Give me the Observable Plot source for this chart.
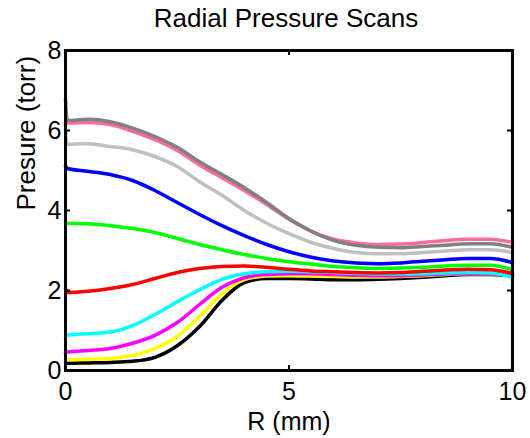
<!DOCTYPE html>
<html>
<head>
<meta charset="utf-8">
<script src="https://cdn.jsdelivr.net/npm/d3@7"></script>
<script src="https://cdn.jsdelivr.net/npm/@observablehq/plot@0.6"></script>
<style>
  html, body { margin: 0; padding: 0; background: white; overflow: hidden; }
</style>
</head>
<body>
<div id="chart"></div>
<script>
const titleText = "Radial Pressure Scans";
const xLabel = "R (mm)";
const yLabel = "Presure (torr)";
const xDomain = [0, 10];
const yDomain = [0, 8];
const xTicks = [0, 5, 10];
const yTicks = [0, 2, 4, 6, 8];

const R = [0, 0.04, 0.5, 1, 1.5, 2, 2.5, 3, 3.5, 4, 4.5, 5, 5.5, 6, 6.5, 7, 7.5, 8, 8.5, 9, 9.5, 10];

const scan1  = [0.18, 0.18, 0.19, 0.20, 0.23, 0.33, 0.62, 1.10, 1.75, 2.20, 2.30, 2.30, 2.29, 2.27, 2.27, 2.28, 2.30, 2.33, 2.37, 2.40, 2.40, 2.38];
const scan2  = [0.27, 0.27, 0.28, 0.30, 0.38, 0.55, 0.85, 1.35, 1.92, 2.27, 2.36, 2.37, 2.36, 2.35, 2.34, 2.34, 2.35, 2.37, 2.40, 2.42, 2.42, 2.40];
const scan3  = [0.45, 0.46, 0.50, 0.55, 0.68, 0.88, 1.20, 1.65, 2.08, 2.32, 2.40, 2.42, 2.42, 2.40, 2.38, 2.37, 2.37, 2.39, 2.41, 2.42, 2.42, 2.37];
const scan4  = [0.85, 0.88, 0.92, 0.96, 1.12, 1.40, 1.72, 2.02, 2.28, 2.42, 2.47, 2.48, 2.47, 2.45, 2.43, 2.41, 2.41, 2.42, 2.44, 2.45, 2.44, 2.33];
const scan5  = [2.05, 1.95, 1.98, 2.05, 2.15, 2.30, 2.45, 2.55, 2.60, 2.61, 2.58, 2.53, 2.49, 2.47, 2.45, 2.44, 2.45, 2.48, 2.51, 2.53, 2.52, 2.43];
const scan6  = [3.72, 3.68, 3.67, 3.62, 3.55, 3.45, 3.30, 3.15, 3.02, 2.90, 2.80, 2.72, 2.66, 2.60, 2.57, 2.55, 2.56, 2.58, 2.61, 2.63, 2.63, 2.52];
const scan7  = [5.12, 5.05, 4.98, 4.90, 4.75, 4.50, 4.20, 3.90, 3.62, 3.37, 3.15, 2.97, 2.83, 2.74, 2.69, 2.67, 2.69, 2.73, 2.77, 2.80, 2.80, 2.70];
const scan8  = [6.00, 5.65, 5.67, 5.60, 5.52, 5.35, 5.10, 4.72, 4.38, 4.00, 3.68, 3.42, 3.20, 3.05, 2.95, 2.92, 2.92, 2.95, 2.99, 3.02, 3.02, 2.95];
const scan9  = [6.15, 6.18, 6.20, 6.15, 5.98, 5.77, 5.50, 5.14, 4.82, 4.50, 4.15, 3.78, 3.48, 3.28, 3.19, 3.15, 3.16, 3.20, 3.25, 3.28, 3.28, 3.20];
const scan10 = [6.80, 6.25, 6.28, 6.22, 6.06, 5.85, 5.58, 5.22, 4.90, 4.57, 4.20, 3.80, 3.48, 3.25, 3.13, 3.08, 3.07, 3.10, 3.13, 3.17, 3.17, 3.08];

const seriesNames  = ["s1", "s2", "s3", "s4", "s5", "s6", "s7", "s8", "s9", "s10"];
const seriesValues = [scan1, scan2, scan3, scan4, scan5, scan6, scan7, scan8, scan9, scan10];
const seriesColors = ["#000000", "#ffff00", "#ff00ff", "#00ffff", "#ff0000", "#00ff00", "#0000ff", "#c0c0c0", "#ff6a9c", "#808080"];

const rows = [];
seriesNames.forEach((name, si) => {
  R.forEach((r, i) => rows.push({series: name, r, p: seriesValues[si][i]}));
});

const W = 530, H = 438, MT = 50, MB = 68, ML = 65, MR = 18;
const innerW = W - ML - MR, innerH = H - MT - MB, tickLen = 5;
const font = "Liberation Sans, Arial, Helvetica, sans-serif";

const chart = Plot.plot({
  width: W,
  height: H,
  marginTop: MT,
  marginBottom: MB,
  marginLeft: ML,
  marginRight: MR,
  style: {fontFamily: font, fontSize: "25px", color: "black", background: "white"},
  x: {domain: xDomain, ticks: xTicks, tickSize: 0, tickPadding: 12, label: null},
  y: {domain: yDomain, ticks: yTicks, tickSize: 0, tickPadding: 4, label: null},
  color: {type: "ordinal", domain: seriesNames, range: seriesColors},
  marks: [
    Plot.line(rows, {x: "r", y: "p", z: "series", stroke: "series", strokeWidth: 3.5, curve: "monotone-x"}),
    Plot.frame({stroke: "black", strokeWidth: 3}),
    Plot.tickX(xTicks, {x: d => d, stroke: "black", strokeWidth: 2, insetTop: innerH - tickLen}),
    Plot.tickX(xTicks, {x: d => d, stroke: "black", strokeWidth: 2, insetBottom: innerH - tickLen}),
    Plot.tickY(yTicks, {y: d => d, stroke: "black", strokeWidth: 2, insetRight: innerW - tickLen}),
    Plot.tickY(yTicks, {y: d => d, stroke: "black", strokeWidth: 2, insetLeft: innerW - tickLen}),
    Plot.text([titleText], {frameAnchor: "top", dx: -3, dy: -24, lineAnchor: "bottom", fontSize: 26, text: d => d}),
    Plot.text([xLabel], {frameAnchor: "bottom", dy: 59, lineAnchor: "bottom", fontSize: 25, text: d => d}),
    Plot.text([yLabel], {frameAnchor: "left", dx: -31, rotate: -90, lineAnchor: "bottom", fontSize: 26, text: d => d})
  ]
});

document.getElementById("chart").appendChild(chart);
</script>
</body>
</html>
